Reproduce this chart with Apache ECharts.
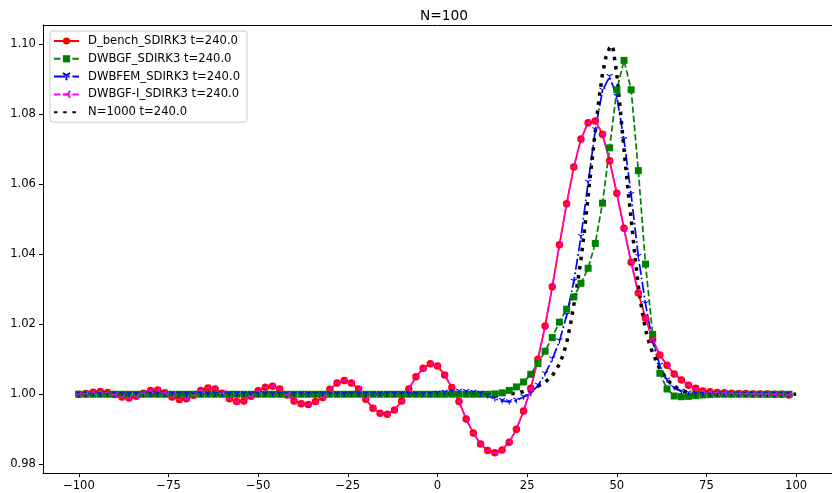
<!DOCTYPE html>
<html><head><meta charset="utf-8">
<script src="https://cdn.jsdelivr.net/npm/echarts@6/dist/echarts.min.js"></script>
<style>html,body{margin:0;padding:0;background:#fff}#c{width:832px;height:493px}</style>
</head><body><div id="c"></div>
<script>
const xN100 = [-100,-98,-96,-94,-92,-90,-88,-86,-84,-82,-80,-78,-76,-74,-72,-70,-68,-66,-64,-62,-60,-58,-56,-54,-52,-50,-48,-46,-44,-42,-40,-38,-36,-34,-32,-30,-28,-26,-24,-22,-20,-18,-16,-14,-12,-10,-8,-6,-4,-2,0,2,4,6,8,10,12,14,16,18,20,22,24,26,28,30,32,34,36,38,40,42,44,46,48,50,52,54,56,58,60,62,64,66,68,70,72,74,76,78,80,82,84,86,88,90,92,94,96,98];

const dBench = [
1.0000,1.0002,1.0006,1.0008,1.0005,0.9999,0.9992,0.9989,0.9994,1.0003,
1.0011,1.0012,1.0004,0.9992,0.9985,0.9987,0.9997,1.0011,1.0018,1.0015,
1.0003,0.9987,0.9979,0.9981,0.9994,1.0010,1.0020,1.0023,1.0015,0.9998,
0.9981,0.9973,0.9971,0.9979,0.9991,1.0014,1.0032,1.0039,1.0032,1.0015,
0.9986,0.9960,0.9946,0.9943,0.9955,0.9981,1.0015,1.0050,1.0074,1.0087,
1.0081,1.0055,1.0019,0.9979,0.9929,0.9889,0.9858,0.9839,0.9833,0.9841,
0.9863,0.9900,0.9952,1.0017,1.0100,1.0195,1.0307,1.0427,1.0544,1.0649,
1.0729,1.0776,1.0781,1.0743,1.0667,1.0574,1.0474,1.0377,1.0289,1.0217,
1.0156,1.0112,1.0083,1.0058,1.0041,1.0026,1.0017,1.0009,1.0007,1.0005,
1.0004,1.0003,1.0002,1.0002,1.0001,1.0001,1.0001,1.0000,1.0000,0.9998];

const dwbgf = [
1.0000,1.0000,1.0000,1.0000,1.0000,1.0000,1.0000,1.0000,1.0000,1.0000,
1.0000,1.0000,1.0000,1.0000,1.0000,1.0000,1.0000,1.0000,1.0000,1.0000,
1.0000,1.0000,1.0000,1.0000,1.0000,1.0000,1.0000,1.0000,1.0000,1.0000,
1.0000,1.0000,1.0000,1.0000,1.0000,1.0000,1.0000,1.0000,1.0000,1.0000,
1.0000,1.0000,1.0000,1.0000,1.0000,1.0000,1.0000,1.0000,1.0000,1.0000,
1.0000,1.0000,1.0000,1.0000,1.0000,1.0000,1.0000,1.0000,1.0001,1.0004,
1.0011,1.0021,1.0035,1.0057,1.0088,1.0123,1.0162,1.0206,1.0243,1.0278,
1.0317,1.0360,1.0431,1.0546,1.0704,1.0870,1.0954,1.0870,1.0639,1.0372,
1.0171,1.0060,1.0015,0.9995,0.9993,0.9994,0.9996,0.9998,0.9999,1.0000,
1.0000,1.0000,1.0000,1.0000,1.0000,1.0000,1.0000,1.0000,1.0000,1.0000];

const dwbfem = [
1.0000,1.0000,1.0000,1.0000,1.0000,1.0000,1.0000,1.0000,1.0000,1.0000,
1.0000,1.0000,1.0000,1.0000,1.0000,1.0000,1.0000,1.0000,1.0000,1.0000,
1.0000,1.0000,1.0000,1.0000,1.0000,1.0000,1.0000,1.0000,1.0000,1.0000,
1.0000,1.0000,1.0000,1.0000,1.0000,1.0000,1.0000,1.0000,1.0000,1.0000,
1.0000,1.0000,1.0000,1.0000,1.0000,1.0000,1.0000,1.0000,1.0000,1.0000,
1.0002,1.0005,1.0007,1.0008,1.0007,1.0005,1.0001,0.9995,0.9987,0.9981,
0.9978,0.9982,0.9992,1.0002,1.0025,1.0058,1.0100,1.0152,1.0225,1.0322,
1.0450,1.0605,1.0755,1.0868,1.0907,1.0850,1.0727,1.0570,1.0393,1.0258,
1.0150,1.0082,1.0040,1.0018,1.0008,1.0003,1.0001,1.0000,1.0000,1.0000,
1.0000,1.0000,1.0000,1.0000,1.0000,1.0000,1.0000,1.0000,1.0000,1.0000];

const dwbgfI = [
1.0000,1.0002,1.0006,1.0008,1.0005,0.9999,0.9992,0.9989,0.9994,1.0003,
1.0011,1.0012,1.0004,0.9992,0.9985,0.9987,0.9997,1.0011,1.0018,1.0015,
1.0003,0.9987,0.9979,0.9981,0.9994,1.0010,1.0020,1.0023,1.0015,0.9998,
0.9981,0.9973,0.9971,0.9979,0.9991,1.0014,1.0032,1.0039,1.0032,1.0015,
0.9986,0.9960,0.9946,0.9943,0.9955,0.9981,1.0015,1.0050,1.0074,1.0087,
1.0081,1.0055,1.0019,0.9979,0.9929,0.9889,0.9858,0.9839,0.9833,0.9841,
0.9863,0.9900,0.9952,1.0017,1.0100,1.0195,1.0307,1.0427,1.0544,1.0649,
1.0729,1.0776,1.0781,1.0743,1.0667,1.0574,1.0474,1.0377,1.0289,1.0217,
1.0156,1.0112,1.0083,1.0058,1.0041,1.0026,1.0017,1.0009,1.0007,1.0005,
1.0004,1.0003,1.0002,1.0002,1.0001,1.0001,1.0001,1.0000,1.0000,0.9998];

const xN1000 = [-100,-80,-60,-40,-20,0,10,16,20,22,24,26,28,30,31,32,33,34,35,36,37,38,39,40,41,42,43,44,45,46,47,48,48.6,49,50,51,52,53,54,55,56,57,58,59,60,62,64,66,68,70,72,74,80,90,100];
const yN1000 = [1.0000,1.0000,1.0000,1.0000,1.0000,1.0000,1.0000,1.0000,1.0001,1.0003,1.0008,1.0015,1.0023,1.0035,1.0043,1.0053,1.0068,1.0086,1.0112,1.0147,1.0195,1.0255,1.0315,1.0385,1.0470,1.0565,1.0660,1.0752,1.0842,1.0915,1.0965,1.0990,1.0997,1.0985,1.0915,1.0810,1.0700,1.0595,1.0500,1.0400,1.0310,1.0240,1.0185,1.0148,1.0118,1.0072,1.0042,1.0022,1.0011,1.0005,1.0002,1.0001,1.0000,1.0000,1.0000];

const xTicks = [-100,-75,-50,-25,0,25,50,75,100];
const yTicks = [0.98,1.00,1.02,1.04,1.06,1.08,1.10];
const names = ['D_bench_SDIRK3 t=240.0','DWBGF_SDIRK3 t=240.0','DWBFEM_SDIRK3 t=240.0','DWBGF-I_SDIRK3 t=240.0','N=1000 t=240.0'];

const FONT = 'DejaVu Sans';
const triDown = 'path://M0 0 L0 10 M0 0 L-8.66 -5 M0 0 L8.66 -5';
const triLeft = 'path://M0 0 L-10 0 M0 0 L5 8.66 M0 0 L5 -8.66';

const pair = (xs, ys) => xs.map((x, i) => [x, ys[i]]);

const chart = echarts.init(document.getElementById('c'), null, {renderer: 'canvas'});
chart.setOption({
  animation: false,
  backgroundColor: '#ffffff',
  title: {
    text: 'N=100', left: 439, top: 4, textAlign: 'center',
    textStyle: {fontFamily: FONT, fontSize: 13.8, fontWeight: 'normal', color: '#000'}
  },
  legend: {
    orient: 'vertical', left: 50, top: 31,
    padding: [4, 7, 4, 3],
    itemWidth: 25, itemHeight: 9, itemGap: 5.8,
    borderColor: '#cccccc', borderWidth: 1, borderRadius: 3,
    backgroundColor: 'rgba(255,255,255,0.8)',
    textStyle: {fontFamily: FONT, fontSize: 11.6, color: '#000', lineHeight: 12, padding: [0, 0, 0, 4]},
    data: [names[0], names[1], names[2], names[3], {name: names[4], itemStyle: {opacity: 0}}]
  },
  grid: {left: 43, top: 25, width: 792, height: 448, containLabel: false},
  xAxis: [{
    type: 'value', min: -110, max: 110, position: 'bottom',
    axisLine: {show: true, onZero: false, lineStyle: {color: '#000', width: 1}},
    axisTick: {show: true, length: 4, lineStyle: {color: '#000', width: 1}, customValues: xTicks},
    axisLabel: {customValues: xTicks, margin: 7, color: '#000', fontFamily: FONT, fontSize: 11.6,
      formatter: v => (v < 0 ? '\u2212' + Math.abs(v) : String(v))},
    splitLine: {show: false}
  }, {
    type: 'value', min: -110, max: 110, position: 'top',
    axisLine: {show: true, onZero: false, lineStyle: {color: '#000', width: 1}},
    axisTick: {show: false}, axisLabel: {show: false}, splitLine: {show: false}
  }],
  yAxis: [{
    type: 'value', min: 0.9775, max: 1.1055, position: 'left',
    axisLine: {show: true, onZero: false, lineStyle: {color: '#000', width: 1}},
    axisTick: {show: true, length: 4, lineStyle: {color: '#000', width: 1}, customValues: yTicks},
    axisLabel: {customValues: yTicks, margin: 7, color: '#000', fontFamily: FONT, fontSize: 11.6,
      formatter: v => v.toFixed(2)},
    splitLine: {show: false}
  }],
  series: [{
    name: names[0], type: 'line', data: pair(xN100, dBench),
    symbol: 'circle', symbolSize: 7.5, showAllSymbol: true,
    lineStyle: {color: '#ff0000', width: 1.7, type: 'solid'},
    itemStyle: {color: '#ff0000', borderColor: '#ff0000', borderWidth: 0}
  }, {
    name: names[1], type: 'line', data: pair(xN100, dwbgf),
    symbol: 'rect', symbolSize: 7, showAllSymbol: true,
    lineStyle: {color: '#008000', width: 1.7, type: [6.4, 2.8]},
    itemStyle: {color: '#008000', borderColor: '#008000', borderWidth: 0}
  }, {
    name: names[2], type: 'line', data: pair(xN100, dwbfem),
    symbol: triDown, symbolSize: [6, 5.2], showAllSymbol: true,
    lineStyle: {color: '#0000ff', width: 1.7, type: [11.1, 2.8, 1.7, 2.8]},
    itemStyle: {color: '#0000ff', borderColor: '#0000ff', borderWidth: 1.1}
  }, {
    name: names[3], type: 'line', data: pair(xN100, dwbgfI),
    symbol: triLeft, symbolSize: [5.2, 6], showAllSymbol: true,
    lineStyle: {color: '#ff00ff', width: 1.7, type: [6.4, 2.8]},
    itemStyle: {color: '#ff00ff', borderColor: '#ff00ff', borderWidth: 1.1}
  }, {
    name: names[4], type: 'line', data: pair(xN1000, yN1000),
    symbol: 'none',
    lineStyle: {color: '#000000', width: 3.5, type: [3.5, 5.7]},
    itemStyle: {color: '#000000'}
  }]
});
</script>
</body></html>
